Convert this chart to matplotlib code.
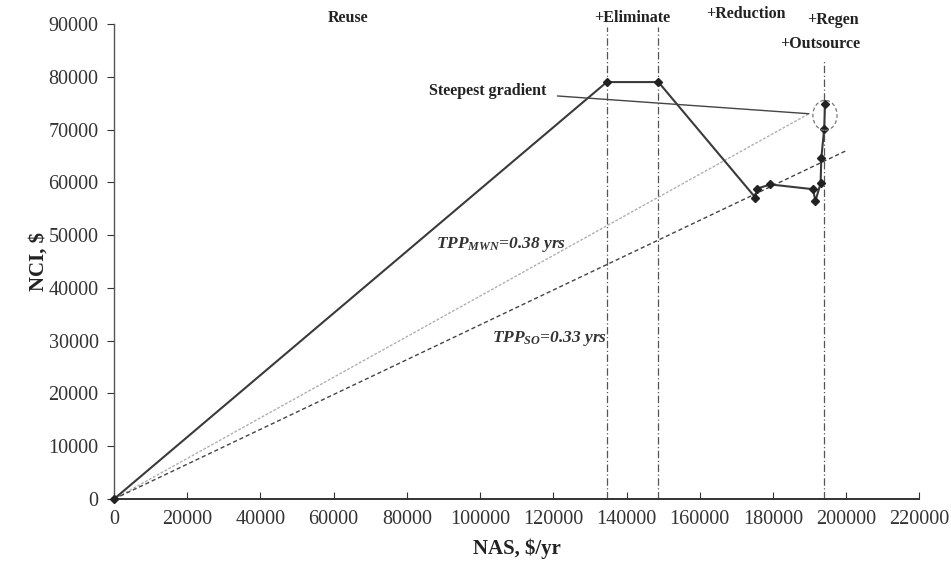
import matplotlib
matplotlib.use("Agg")
import matplotlib.pyplot as plt
from matplotlib.patches import Ellipse

plt.rcParams["font.family"] = ["Liberation Serif", "DejaVu Serif"]
plt.rcParams["mathtext.fontset"] = "custom"
plt.rcParams["mathtext.rm"] = "Liberation Serif"
plt.rcParams["mathtext.it"] = "Liberation Serif:italic:bold"
plt.rcParams["mathtext.bf"] = "Liberation Serif:bold"

# Retrofit pathway: NAS ($/yr) vs NCI ($)
nas = [0, 134600, 148700, 175200, 175600, 179300, 190900, 191600, 193000, 193200, 194000, 194200]
nci = [0, 79000, 79000, 57100, 58800, 59600, 58700, 56500, 59800, 64600, 70200, 74800]

# Payback reference lines (from origin)
mwn_end = (189800, 73000)
so_end = (200000, 66000)

# Stage boundaries
stage_x = [134600, 148700, 194000]
stage_top = [89500, 89500, 83000]

stage_labels = ["Reuse", "+Eliminate", "+Reduction", "+Regen", "+Outsource"]
stage_label_x = [63800, 141600, 172600, 196400, 192900]
stage_label_y = [91100, 91100, 91850, 90700, 86200]

xticks = list(range(0, 220001, 20000))
yticks = list(range(0, 90001, 10000))

fig = plt.figure(figsize=(9.51, 5.65), dpi=100)
ax = fig.add_axes([0.1199, 0.1168, 0.8469, 0.8407])
ax.set_xlim(0, 220000)
ax.set_ylim(0, 90000)

for sx, top in zip(stage_x, stage_top):
    ax.plot([sx, sx], [0, top], color="#555555", lw=0.9, ls=(0, (6, 2, 1, 2)), zorder=1, clip_on=False)

ax.plot([0, mwn_end[0]], [0, mwn_end[1]], color="#b0b0b0", lw=1.0, ls=(0, (2, 1.2)), zorder=2)
ax.plot([0, so_end[0]], [0, so_end[1]], color="#444444", lw=1.0, ls=(0, (3, 2)), zorder=2)

ax.plot(nas, nci, color="#3a3a3a", lw=1.5, marker="D", ms=4.5, mfc="#222222", mec="#222222",
        zorder=3, clip_on=False)

ax.add_patch(Ellipse((194200, 72700), 6600, 5700, fill=False, ec="#777777", lw=0.9, ls=(0, (3, 2)), zorder=3))

ax.annotate("Steepest gradient", xy=mwn_end, xytext=(118100, 77300),
            ha="right", va="center", fontsize=11.5, fontweight="bold", color="#222222",
            arrowprops=dict(arrowstyle="-", color="#444444", lw=1.0, shrinkA=6, shrinkB=0))

for lab, lx, ly in zip(stage_labels, stage_label_x, stage_label_y):
    ax.text(lx, ly, lab, ha="center", va="center", fontsize=11.5, fontweight="bold",
            color="#222222", clip_on=False)

ax.text(105700, 48300, r"$TPP_{MWN}$=0.38 yrs", ha="center", va="center", fontsize=12.5,
        style="italic", fontweight="bold", color="#333333")
ax.text(118900, 30500, r"$TPP_{SO}$=0.33 yrs", ha="center", va="center", fontsize=12.5,
        style="italic", fontweight="bold", color="#333333")

ax.set_xticks(xticks)
ax.set_yticks(yticks)
ax.set_xticklabels([str(v) for v in xticks])
ax.set_yticklabels([str(v) for v in yticks])
ax.tick_params(axis="x", direction="in", length=5, labelsize=14.5, colors="#333333", pad=8)
ax.tick_params(axis="y", direction="out", length=5, labelsize=14.5, colors="#333333", pad=6)

for s in ["top", "right"]:
    ax.spines[s].set_visible(False)
ax.spines["left"].set_color("#555555")
ax.spines["left"].set_linewidth(1.0)
ax.spines["bottom"].set_color("#333333")
ax.spines["bottom"].set_linewidth(1.4)

ax.set_xlabel("NAS, $/yr", fontsize=15, fontweight="bold", color="#222222", labelpad=7)
ax.set_ylabel("NCI, $", fontsize=15, fontweight="bold", color="#222222")
ax.yaxis.set_label_coords(-0.081, 0.5)

fig.savefig("out.png", dpi=100, facecolor="white")
